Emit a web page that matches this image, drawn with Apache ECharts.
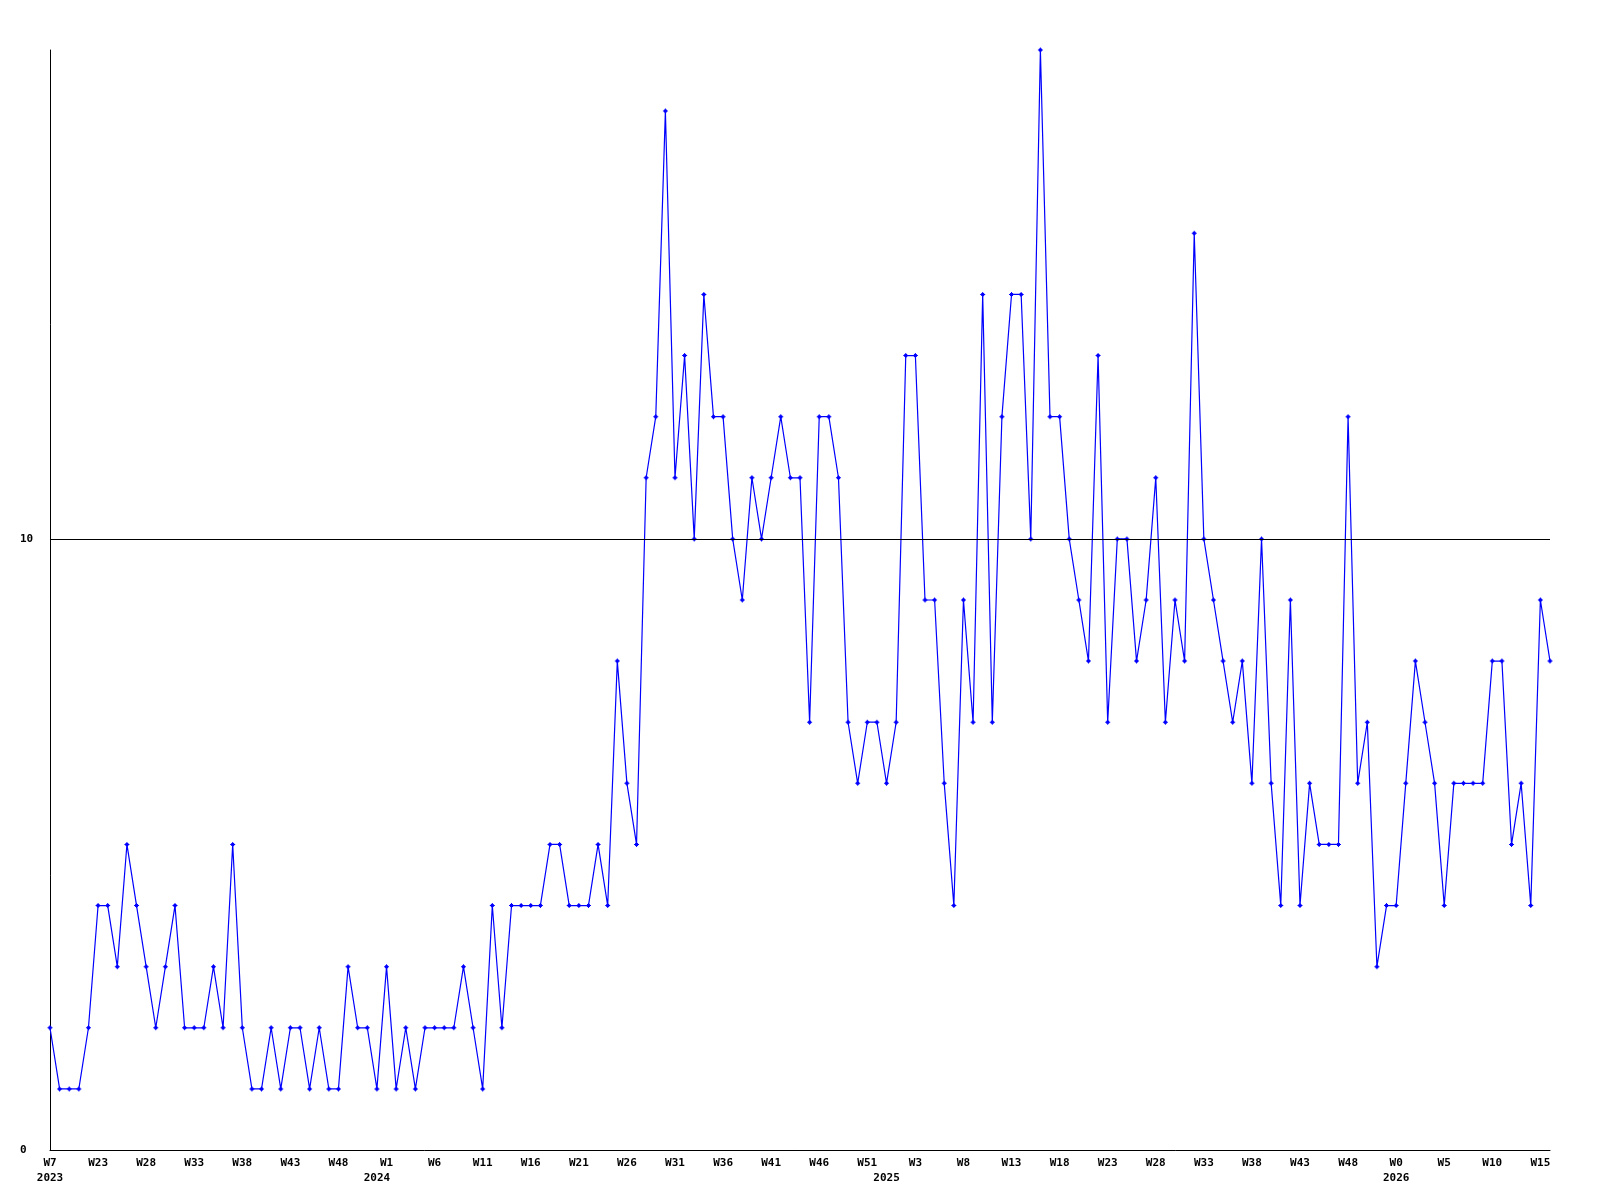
<!DOCTYPE html>
<html>
<head>
<meta charset="utf-8">
<script src="https://cdn.jsdelivr.net/npm/echarts@6/dist/echarts.min.js"></script>
<style>
html,body{margin:0;padding:0;background:#fff;}
#chart{width:1600px;height:1200px;}
</style>
</head>
<body>
<div id="chart"></div>
<script>
// Weekly values (one per point, 157 points)
const values = [
  2,1,1,1,2,4,4,3,5,4,
  3,2,3,4,2,2,2,3,2,5,
  2,1,1,2,1,2,2,1,2,1,
  1,3,2,2,1,3,1,2,1,2,
  2,2,2,3,2,1,4,2,4,4,
  4,4,5,5,4,4,4,5,4,8,
  6,5,11,12,17,11,13,10,14,12,
  12,10,9,11,10,11,12,11,11,7,
  12,12,11,7,6,7,7,6,7,13,
  13,9,9,6,4,9,7,14,7,12,
  14,14,10,18,12,12,10,9,8,13,
  7,10,10,8,9,11,7,9,8,15,
  10,9,8,7,8,6,10,6,4,9,
  4,6,5,5,5,12,6,7,3,4,
  4,6,8,7,6,4,6,6,6,6,
  8,8,5,6,4,9,8
];
// Week tick labels, one every 5 points starting at the first point
const weekTicks = ['W7','W23','W28','W33','W38','W43','W48','W1','W6','W11','W16','W21','W26','W31','W36','W41','W46','W51','W3','W8','W13','W18','W23','W28','W33','W38','W43','W48','W0','W5','W10','W15'];
// Year labels and the point index they sit under
const yearLabels = ['2023','2024','2025','2026'];
const yearIdx = [0, 34, 87, 140];
const refLine = 10;

const categories = values.map((_, i) => String(i));
const font = {fontFamily: 'DejaVu Sans Mono', fontWeight: 'bold', fontSize: 11, color: '#000'};

const chart = echarts.init(document.getElementById('chart'), null, {renderer: 'canvas'});
chart.setOption({
  animation: false,
  backgroundColor: '#fff',
  grid: {left: 50, right: 50, top: 50, bottom: 50, containLabel: false},
  xAxis: [{
    type: 'category', data: categories, boundaryGap: false,
    axisLine: {show: true, lineStyle: {color: '#000', width: 1}},
    axisTick: {show: false},
    splitLine: {show: false},
    axisLabel: Object.assign({
      interval: 4, margin: 7, lineHeight: 13,
      formatter: (v, i) => (i % 5 === 0 ? (weekTicks[i / 5] || '') : '')
    }, font)
  }, {
    type: 'category', data: categories, boundaryGap: false, position: 'bottom', offset: 15,
    axisLine: {show: false}, axisTick: {show: false}, splitLine: {show: false},
    axisLabel: Object.assign({
      interval: (i) => yearIdx.indexOf(i) >= 0, margin: 7, lineHeight: 13,
      formatter: (v, i) => { const k = yearIdx.indexOf(i); return k >= 0 ? yearLabels[k] : ''; }
    }, font)
  }],
  yAxis: {
    type: 'value', min: 0, max: 18, interval: 10,
    axisLine: {show: true, lineStyle: {color: '#000', width: 1}},
    axisTick: {show: false},
    splitLine: {show: false},
    axisLabel: Object.assign({
      align: 'left', margin: 30, showMaxLabel: false,
      formatter: (v) => (v === 18 ? '' : String(v))
    }, font)
  },
  series: [{
    type: 'line', data: values, xAxisIndex: 0,
    symbol: 'path://M2,0H3V5H2ZM0,2H5V3H0ZM1,1H4V4H1Z', symbolSize: 5, showAllSymbol: true,
    itemStyle: {color: '#0000ff'},
    lineStyle: {color: '#0000ff', width: 1.2},
    markLine: {
      silent: true, symbol: ['none', 'none'], label: {show: false},
      lineStyle: {color: '#000', width: 1, type: 'solid'},
      data: [{yAxis: refLine}]
    }
  }]
});
</script>
</body>
</html>
